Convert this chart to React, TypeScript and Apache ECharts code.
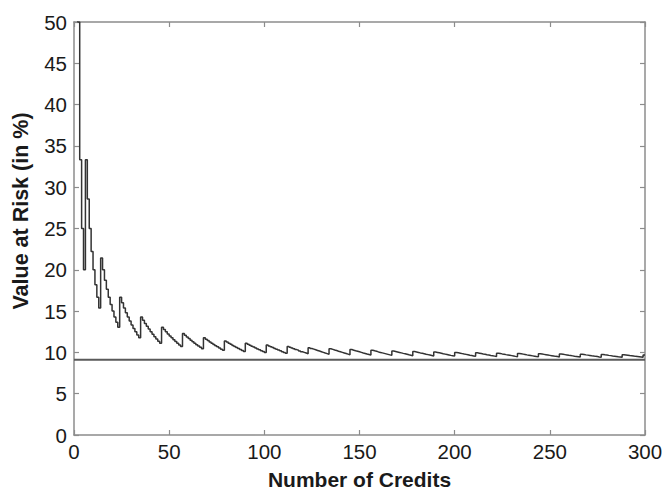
import React, { useEffect, useRef } from "react";
import * as echarts from "echarts";

// Value at Risk (in %) for number of credits N = 1..300
const varValues: number[] = [
  100, 50, 33.33, 25, 20,
  33.33, 28.57, 25, 22.22, 20, 18.18, 16.67, 15.38,
  21.43, 20, 18.75, 17.65, 16.67, 15.79, 15, 14.29, 13.64, 13.04,
  16.67, 16, 15.38, 14.81, 14.29, 13.79, 13.33, 12.9, 12.5, 12.12, 11.76,
  14.29, 13.89, 13.51, 13.16, 12.82, 12.5, 12.2, 11.9, 11.63, 11.36, 11.11,
  13.04, 12.77, 12.5, 12.24, 12, 11.76, 11.54, 11.32, 11.11, 10.91, 10.71,
  12.28, 12.07, 11.86, 11.67, 11.48, 11.29, 11.11, 10.94, 10.77, 10.61, 10.45,
  11.76, 11.59, 11.43, 11.27, 11.11, 10.96, 10.81, 10.67, 10.53, 10.39, 10.26,
  11.39, 11.25, 11.11, 10.98, 10.84, 10.71, 10.59, 10.47, 10.34, 10.23, 10.11,
  11.11, 10.99, 10.87, 10.75, 10.64, 10.53, 10.42, 10.31, 10.2, 10.1, 10,
  10.89, 10.78, 10.68, 10.58, 10.48, 10.38, 10.28, 10.19, 10.09, 10, 9.91,
  10.71, 10.62, 10.53, 10.43, 10.34, 10.26, 10.17, 10.08, 10, 9.92, 9.84,
  10.57, 10.48, 10.4, 10.32, 10.24, 10.16, 10.08, 10, 9.92, 9.85, 9.77,
  10.45, 10.37, 10.29, 10.22, 10.14, 10.07, 10, 9.93, 9.86, 9.79, 9.72,
  10.34, 10.27, 10.2, 10.14, 10.07, 10, 9.93, 9.87, 9.8, 9.74, 9.68,
  10.26, 10.19, 10.13, 10.06, 10, 9.94, 9.88, 9.82, 9.76, 9.7, 9.64,
  10.18, 10.12, 10.06, 10, 9.94, 9.88, 9.83, 9.77, 9.71, 9.66, 9.6,
  10.11, 10.06, 10, 9.94, 9.89, 9.84, 9.78, 9.73, 9.68, 9.63, 9.57,
  10.05, 10, 9.95, 9.9, 9.84, 9.79, 9.74, 9.69, 9.64, 9.6, 9.55,
  10, 9.95, 9.9, 9.85, 9.8, 9.76, 9.71, 9.66, 9.62, 9.57, 9.52,
  9.95, 9.91, 9.86, 9.81, 9.77, 9.72, 9.68, 9.63, 9.59, 9.55, 9.5,
  9.91, 9.87, 9.82, 9.78, 9.73, 9.69, 9.65, 9.61, 9.57, 9.52, 9.48,
  9.87, 9.83, 9.79, 9.75, 9.7, 9.66, 9.62, 9.58, 9.54, 9.5, 9.47,
  9.84, 9.8, 9.76, 9.72, 9.68, 9.64, 9.6, 9.56, 9.52, 9.49, 9.45,
  9.8, 9.77, 9.73, 9.69, 9.65, 9.62, 9.58, 9.54, 9.51, 9.47, 9.43,
  9.77, 9.74, 9.7, 9.67, 9.63, 9.59, 9.56, 9.52, 9.49, 9.45, 9.42,
  9.75, 9.71, 9.68, 9.64, 9.61, 9.57, 9.54, 9.51, 9.47, 9.44, 9.41,
  9.72, 9.69, 9.66, 9.62, 9.59, 9.56, 9.52, 9.49, 9.46, 9.43, 9.4,
  9.7, 9.67,
];
const credits: number[] = varValues.map((_, i) => i + 1);

// Asymptotic limit line
const limitX: number[] = [0, 300];
const limitValue = 9.1;

const xTicks = { min: 0, max: 300, interval: 50 };
const yTicks = { min: 0, max: 50, interval: 5 };

const xTitle = "Number of Credits";
const yTitle = "Value at Risk (in %)";

const FONT = "Liberation Sans, Arial, sans-serif";
const AXIS_COLOR = "#8c8c8c";
const TEXT_COLOR = "#1a1a1a";

export default function App() {
  const ref = useRef<HTMLDivElement>(null);
  useEffect(() => {
    if (!ref.current) return;
    const chart = echarts.init(ref.current, undefined, { renderer: "svg" });
    const baseAxisLine = { show: true, onZero: false, lineStyle: { color: AXIS_COLOR, width: 1.5 } };
    const tick = { show: true, inside: true, length: 5, lineStyle: { color: AXIS_COLOR, width: 1.2 } };
    chart.setOption({
      animation: false,
      backgroundColor: "#ffffff",
      grid: {
        left: 74,
        right: 18,
        top: 22,
        bottom: 56,
        containLabel: false,
        outerBoundsMode: "none",
      },
      graphic: [
        {
          type: "text",
          x: 21,
          y: 211,
          rotation: Math.PI / 2,
          silent: true,
          style: {
            text: yTitle,
            fontFamily: FONT,
            fontSize: 21.5,
            fontWeight: "bold",
            fill: TEXT_COLOR,
            align: "center",
            verticalAlign: "middle",
          },
        },
      ],
      xAxis: [
        {
          type: "value",
          ...xTicks,
          position: "bottom",
          name: xTitle,
          nameLocation: "middle",
          nameGap: 34,
          nameTextStyle: {
            fontFamily: FONT,
            fontSize: 21,
            lineHeight: 21,
            fontWeight: "bold",
            color: TEXT_COLOR,
          },
          axisLine: baseAxisLine,
          axisTick: tick,
          axisLabel: { fontFamily: FONT, fontSize: 20.5, color: TEXT_COLOR, margin: 6 },
          splitLine: { show: false },
        },
        {
          type: "value",
          ...xTicks,
          position: "top",
          axisLine: baseAxisLine,
          axisTick: tick,
          axisLabel: { show: false },
          splitLine: { show: false },
        },
      ],
      yAxis: [
        {
          type: "value",
          ...yTicks,
          position: "left",
          axisLine: baseAxisLine,
          axisTick: tick,
          axisLabel: { fontFamily: FONT, fontSize: 20.5, color: TEXT_COLOR, margin: 7 },
          splitLine: { show: false },
        },
        {
          type: "value",
          ...yTicks,
          position: "right",
          axisLine: baseAxisLine,
          axisTick: tick,
          axisLabel: { show: false },
          splitLine: { show: false },
        },
      ],
      series: [
        {
          type: "line",
          data: limitX.map((x) => [x, limitValue]),
          symbol: "none",
          lineStyle: { color: "#5a5a5a", width: 2 },
          silent: true,
        },
        {
          type: "line",
          step: "end",
          data: credits.map((n, i) => [n, varValues[i]]),
          symbol: "none",
          clip: true,
          lineStyle: { color: "#333333", width: 1.5 },
        },
      ],
    });
    return () => chart.dispose();
  }, []);
  return (
    <div
      ref={ref}
      style={{ position: "absolute", left: 0, top: 0, width: 663, height: 491 }}
    />
  );
}
